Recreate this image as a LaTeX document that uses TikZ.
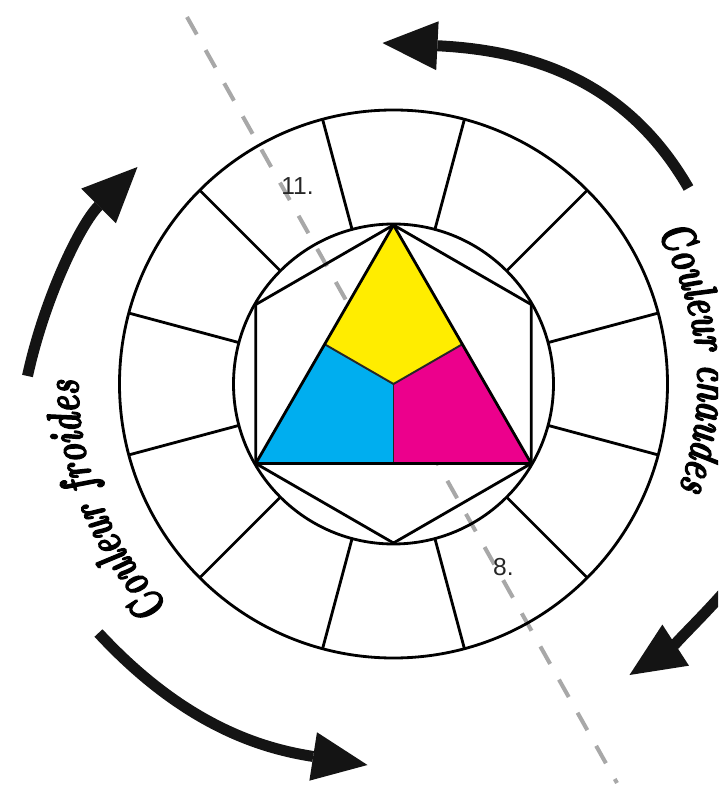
\documentclass[tikz,border=0pt]{standalone}
\usepackage{fontspec}
\usetikzlibrary{arrows.meta,decorations.text}
\newfontfamily\brushfont{lmroman10-bolditalic}[Extension=.otf, FakeStretch=0.67, FakeBold=2.4]
\newfontfamily\numfont{Liberation Sans}
\newcommand\brushsize{\brushfont\fontsize{27pt}{29pt}\selectfont}
\definecolor{primyellow}{HTML}{FFED00}
\definecolor{primcyan}{HTML}{00AEEF}
\definecolor{primmagenta}{HTML}{EC008C}
\definecolor{axisgray}{HTML}{A8A8A8}
\tikzset{
  wheelline/.style={line width=1.6pt, black, line join=round},
  splitline/.style={line width=1.1pt, black!85},
  bigarrow/.style={-{Triangle[length=1.1cm, width=0.98cm, line width=0pt]}, line width=0.22cm, black!92},
  axisline/.style={axisgray, line width=2.3pt, dash pattern=on 0.4cm off 0.36cm},
  numlabel/.style={font=\numfont\fontsize{14pt}{14pt}\selectfont, text=black!85, inner sep=0pt}
}

\begin{document}
\begin{tikzpicture}[x=0.02cm, y=0.02cm]
  \useasboundingbox (-393.5,-403) rectangle (324.5,384);
  \clip (-393.5,-403) rectangle (324.5,384);
  \coordinate (c) at (0,0);
  \coordinate (ty) at (90:159);
  \coordinate (tc) at (210:159);
  \coordinate (tm) at (330:159);

  % axis of complementary colours
  \coordinate (axisA) at (-206.5,367);
  \coordinate (axisB) at (223.5,-399);
  \draw[axisline] (axisA) -- (axisB);

  % primaries
  \fill[primyellow] (ty) -- (30:79.5) -- (c) -- (150:79.5) -- cycle;
  \fill[primcyan] (150:79.5) -- (c) -- (270:79.5) -- (tc) -- cycle;
  \fill[primmagenta] (c) -- (30:79.5) -- (tm) -- (270:79.5) -- cycle;
  \draw[splitline] (150:79.5) -- (c) -- (30:79.5);
  \draw[splitline] (c) -- (270:79.5);

  % wheel
  \draw[wheelline] (c) circle[radius=274];
  \draw[wheelline] (c) circle[radius=160];
  \foreach \a in {15,45,...,345}
    \draw[wheelline] (\a:160) -- (\a:274);
  \draw[wheelline] (90:159) -- (150:159) -- (210:159) -- (270:159) -- (330:159) -- (30:159) -- cycle;
  \draw[wheelline] (ty) -- (tc) -- (tm) -- cycle;

  \node[numlabel] (lab11) at (-96,198) {11.};
  \node[numlabel] (lab8) at (110,-183) {8.};

  % warm side
  \coordinate (warmtopA) at (295,196);
  \coordinate (warmtopB) at (-11,341);
  \draw[bigarrow] (warmtopA) .. controls (230,309) and (129,334) .. (warmtopB);
  \coordinate (warmlowA) at (352,-181);
  \coordinate (warmlowB) at (236,-291);
  \draw[bigarrow] (warmlowA) .. controls (330,-214) and (270,-269) .. (warmlowB);
  \path[decorate, decoration={text along path, text align=center,
      text={|\brushsize|Couleur chaudes}}]
    (35:304) arc[start angle=35, end angle=-25, radius=304];

  % cool side
  \coordinate (coolupA) at (-366,8);
  \coordinate (coolupB) at (-256,217);
  \draw[bigarrow] (coolupA) .. controls (-349,86) and (-313,160) .. (coolupB);
  \coordinate (coollowA) at (-295,-249);
  \coordinate (coollowB) at (-26,-381);
  \draw[bigarrow] (coollowA) .. controls (-207,-344) and (-128,-365) .. (coollowB);
  \path[decorate, decoration={text along path, text align=center,
      text={|\brushsize|Couleur froides}}]
    (232:315) arc[start angle=232, end angle=172, radius=315];
\end{tikzpicture}
\end{document}
